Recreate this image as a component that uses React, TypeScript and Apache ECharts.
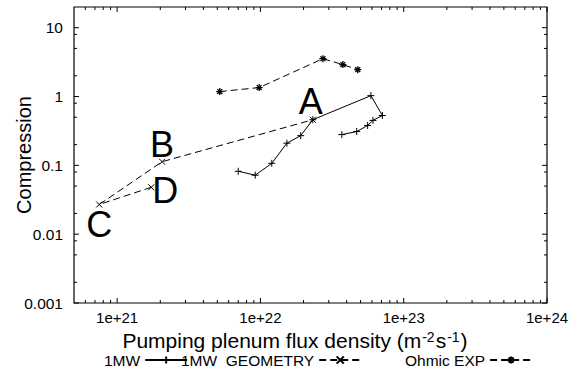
import React, { useEffect, useRef } from 'react';
import * as echarts from 'echarts';

// ---- data ----
const oneMWFlux = [7.0e21, 9.2e21, 1.2e22, 1.53e22, 1.91e22, 2.32e22, 5.9e22, 7.1e22, 6.1e22, 5.6e22, 4.7e22, 3.7e22];
const oneMWCompression = [0.082, 0.072, 0.107, 0.21, 0.27, 0.46, 1.03, 0.53, 0.45, 0.38, 0.31, 0.28];

const geometryFlux = [1.73e21, 7.5e20, 2.06e21, 2.32e22];
const geometryCompression = [0.048, 0.027, 0.113, 0.46];
const geometryLabels = ['D', 'C', 'B', 'A'];

const ohmicFlux = [5.2e21, 9.8e21, 2.73e22, 3.76e22, 4.78e22];
const ohmicCompression = [1.18, 1.35, 3.55, 2.91, 2.46];

const seriesNames = ['1MW', '1MW_GEOMETRY', 'Ohmic EXP'];

const xMin = 5e20;
const xMax = 1e24;
const yMin = 0.001;
const yMax = 20;
const xMinorMultipliers = [2, 3, 4, 5, 6, 7, 8, 9];
const yMinorMultipliers = [2, 5, 8];

// ---- styles ----
const FONT = '"Liberation Sans", Arial, Helvetica, sans-serif';
const labelOffsets: Record<string, [number, number]> = {
  A: [-2, -18],
  B: [0, -17],
  C: [0, 20],
  D: [14, 3],
};
const PLUS = 'path://M0,5L10,5M5,0L5,10';
const CROSS = 'path://M0,0L10,10M10,0L0,10';
const STAR = 'path://M0,5L10,5M5,0L5,10M1.5,1.5L8.5,8.5M8.5,1.5L1.5,8.5';

function pairs(xs: number[], ys: number[]) {
  return xs.map((x, i) => [x, ys[i]]);
}

function decadeLabel(v: number): string {
  const e = Math.log10(v);
  const r = Math.round(e);
  if (Math.abs(e - r) > 1e-6) return '';
  return `1e+${r}`;
}
function yLabel(v: number): string {
  const e = Math.log10(v);
  const r = Math.round(e);
  if (Math.abs(e - r) > 1e-6) return '';
  if (r >= 0) return String(Math.pow(10, r));
  return '0.' + '0'.repeat(-r - 1) + '1';
}

function buildTicks(min: number, max: number, minors: number[]) {
  const out: { v: number; major: boolean }[] = [];
  const e0 = Math.floor(Math.log10(min));
  const e1 = Math.ceil(Math.log10(max));
  for (let e = e0; e <= e1; e++) {
    const base = Math.pow(10, e);
    [1, ...minors].forEach((m) => {
      const v = m * base;
      if (v >= min * 1.0001 && v <= max * 0.9999) out.push({ v, major: m === 1 });
      else if (m === 1 && v >= min * 0.9999 && v <= max * 1.0001) out.push({ v, major: true });
    });
  }
  return out;
}

export default function App() {
  const ref = useRef<HTMLDivElement>(null);

  useEffect(() => {
    if (!ref.current) return;
    const chart = echarts.init(ref.current, undefined, { renderer: 'svg' });

    const xTicks = buildTicks(xMin, xMax, xMinorMultipliers).map((t) => [t.v, yMin, t.major ? 5 : 3]);
    const yTicks = buildTicks(yMin, yMax, yMinorMultipliers).map((t) => [xMin, t.v, t.major ? 5 : 3]);

    const tickStyle = { stroke: '#000', lineWidth: 1 };

    const option: any = {
      animation: false,
      backgroundColor: '#fff',
      textStyle: { fontFamily: FONT, color: '#000' },
      grid: {
        left: 74,
        top: 7,
        width: 473,
        height: 296,
        containLabel: false,
        outerBoundsMode: 'none',
        show: true,
        borderColor: '#000',
        borderWidth: 1.2,
        backgroundColor: 'transparent',
      },
      legend: [
        { data: [seriesNames[0]], left: 104 },
        { data: [seriesNames[1]], left: 181 },
        { data: [seriesNames[2]], left: 405 },
      ].map((l) => ({
        ...l,
        top: 352,
        align: 'right',
        padding: 0,
        itemWidth: 42,
        itemHeight: 9,
        selectedMode: false,
        textStyle: { fontSize: 15.5, color: '#000', fontFamily: FONT },
      })),
      xAxis: {
        type: 'log',
        logBase: 10,
        min: xMin,
        max: xMax,
        name: 'Pumping plenum flux density (m{sup|-2}s{sup|-1})',
        nameLocation: 'middle',
        nameGap: 23,
        nameTextStyle: {
          fontSize: 21,
          color: '#000',
          fontFamily: FONT,
          padding: [0, 31, 0, 0],
          rich: {
            sup: { fontSize: 14, verticalAlign: 'top', fontFamily: FONT, color: '#000', padding: [0, 1, 0, 1] },
          },
        },
        axisLine: { show: false },
        axisTick: { show: false },
        splitLine: { show: false },
        axisLabel: {
          fontSize: 15,
          color: '#000',
          margin: 7,
          fontFamily: FONT,
          showMinLabel: false,
          formatter: (v: number) => decadeLabel(v),
        },
      },
      yAxis: {
        type: 'log',
        logBase: 10,
        min: yMin,
        max: yMax,
        name: 'Compression',
        nameLocation: 'middle',
        nameGap: 40,
        nameMoveOverlap: false,
        nameTextStyle: { fontSize: 20, color: '#000', fontFamily: FONT },
        axisLine: { show: false },
        axisTick: { show: false },
        splitLine: { show: false },
        axisLabel: {
          fontSize: 15.5,
          color: '#000',
          margin: 11,
          fontFamily: FONT,
          showMaxLabel: false,
          formatter: (v: number) => yLabel(v),
        },
      },
      series: [
        {
          name: seriesNames[0],
          type: 'line',
          data: pairs(oneMWFlux, oneMWCompression),
          symbol: PLUS,
          symbolSize: 7,
          lineStyle: { color: '#000', width: 1, type: 'solid' },
          itemStyle: { color: '#000', borderColor: '#000', borderWidth: 1 },
          z: 3,
        },
        {
          name: seriesNames[1],
          type: 'line',
          data: pairs(geometryFlux, geometryCompression).map((p, i) => ({
            value: p,
            label: {
              show: true,
              formatter: geometryLabels[i],
              position: 'inside',
              offset: labelOffsets[geometryLabels[i]],
              fontSize: 36,
              color: '#000',
              fontFamily: FONT,
            },
          })),
          symbol: CROSS,
          symbolSize: 6,
          lineStyle: { color: '#000', width: 1, type: [7, 4] },
          itemStyle: { color: '#000', borderColor: '#000', borderWidth: 1 },
          z: 3,
        },
        {
          name: seriesNames[2],
          type: 'line',
          data: pairs(ohmicFlux, ohmicCompression),
          symbol: STAR,
          symbolSize: 7,
          lineStyle: { color: '#000', width: 1, type: [7, 4] },
          itemStyle: { color: '#000', borderColor: '#000', borderWidth: 1.3 },
          z: 3,
        },
        {
          name: 'xTicks',
          type: 'custom',
          silent: true,
          clip: false,
          data: xTicks,
          encode: { x: 0, y: 1 },
          renderItem: (params: any, api: any) => {
            const cs = params.coordSys;
            const p = api.coord([api.value(0), api.value(1)]);
            const len = api.value(2);
            const x = p[0];
            const yb = cs.y + cs.height;
            return {
              type: 'group',
              children: [
                { type: 'line', shape: { x1: x, y1: yb, x2: x, y2: yb - len }, style: tickStyle },
                { type: 'line', shape: { x1: x, y1: cs.y, x2: x, y2: cs.y + len }, style: tickStyle },
              ],
            };
          },
          z: 2,
        },
        {
          name: 'yTicks',
          type: 'custom',
          silent: true,
          clip: false,
          data: yTicks,
          encode: { x: 0, y: 1 },
          renderItem: (params: any, api: any) => {
            const cs = params.coordSys;
            const p = api.coord([api.value(0), api.value(1)]);
            const len = api.value(2);
            const y = p[1];
            const xr = cs.x + cs.width;
            return {
              type: 'group',
              children: [
                { type: 'line', shape: { x1: cs.x, y1: y, x2: cs.x + len, y2: y }, style: tickStyle },
                { type: 'line', shape: { x1: xr, y1: y, x2: xr - len, y2: y }, style: tickStyle },
              ],
            };
          },
          z: 2,
        },
      ],
    };

    chart.setOption(option);
    return () => {
      chart.dispose();
    };
  }, []);

  return (
    <div
      ref={ref}
      style={{ position: 'fixed', left: 0, top: 0, width: 580, height: 368, background: '#fff' }}
    />
  );
}
